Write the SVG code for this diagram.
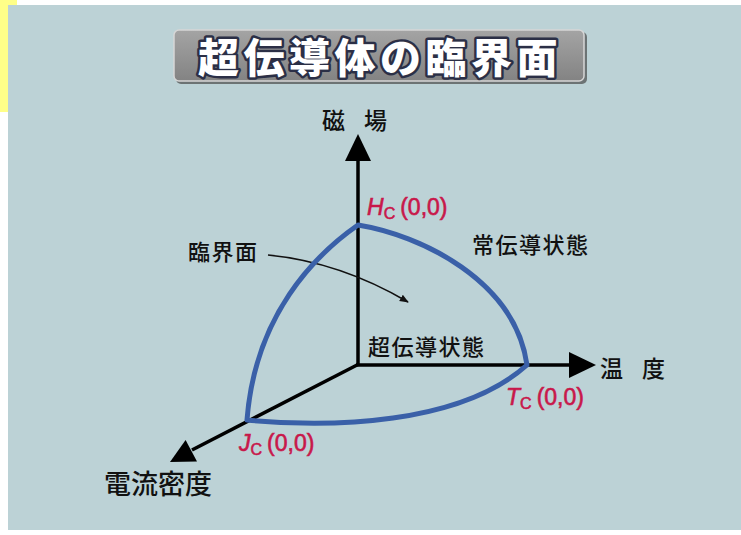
<svg xmlns="http://www.w3.org/2000/svg" width="741" height="535" viewBox="0 0 741 535">
  <defs>
    <linearGradient id="boxg" x1="0" y1="0" x2="0" y2="1">
      <stop offset="0" stop-color="#a4a4a4"/>
      <stop offset="1" stop-color="#838383"/>
    </linearGradient>
    <marker id="thinArrow" viewBox="0 0 10 10" refX="9" refY="5" markerWidth="9" markerHeight="9" orient="auto" markerUnits="userSpaceOnUse">
      <path d="M0,1 L10,5 L0,9 z" fill="#111"/>
    </marker>
    <style>
      .jp { font-family: "Noto Sans CJK JP", "Noto Sans CJK SC", sans-serif; fill: #111; font-weight: 500; }
      .red { font-family: "Liberation Sans", Arial, sans-serif; fill: #c8174a; stroke: #c8174a; stroke-width: 0.6; font-size: 23px; }
      .axis { stroke: #000; stroke-width: 3.5; fill: none; }
      .head { fill: #000; }
      .crit { stroke: #3a60a8; stroke-width: 5; fill: none; stroke-linejoin: round; }
    </style>
  </defs>
  <rect x="0" y="0" width="741" height="535" fill="#ffffff"/>
  <rect x="0" y="0" width="17" height="112" fill="#ffff88"/>
  <rect x="8" y="5" width="733" height="525" fill="#bcd2d6"/>

  <g id="title">
    <rect x="176" y="32" width="411" height="52" rx="5" fill="#4a4a4a" opacity="0.7"/>
    <rect x="174" y="30" width="410" height="51" rx="5" fill="url(#boxg)" stroke="#d6d6d6" stroke-width="1.5"/>
    <text x="380" y="73" text-anchor="middle" font-family="'Noto Sans CJK JP', sans-serif" font-weight="900" font-size="41" fill="#ffffff" stroke="#2b2f46" stroke-width="5" stroke-linejoin="round" paint-order="stroke" letter-spacing="4.5">超伝導体の臨界面</text>
  </g>

  <g id="connectors">
    <line class="axis" x1="358" y1="366" x2="358" y2="158"/>
    <polygon class="head" points="358,134 371,161 345,161"/>
    <line class="axis" x1="356" y1="365" x2="572" y2="365"/>
    <polygon class="head" points="596,365 569,352 569,378"/>
    <line class="axis" x1="359" y1="364" x2="192" y2="450"/>
    <polygon class="head" points="170,462 185.6,440 197,461.6"/>
    <path d="M268,255 Q340,262 408,302" stroke="#111" stroke-width="1.5" fill="none" marker-end="url(#thinArrow)"/>
  </g>

  <g id="critical-surface">
    <path class="crit" d="M358,225 C420,235 515,280 527,365 C460,425 330,428 247,420 C255,315 315,255 358,225 Z"/>
  </g>

  <g id="label-field">
    <text class="jp" x="322" y="129" font-size="23">磁</text>
    <text class="jp" x="364" y="129" font-size="23">場</text>
  </g>
  <g id="label-temp">
    <text class="jp" x="600" y="377" font-size="23">温</text>
    <text class="jp" x="642" y="377" font-size="23">度</text>
  </g>
  <g id="label-current">
    <text class="jp" x="104" y="494" font-size="27">電流密度</text>
  </g>
  <g id="label-surface">
    <text class="jp" x="188" y="260" font-size="22" letter-spacing="1.5">臨界面</text>
  </g>
  <g id="label-normal">
    <text class="jp" x="472" y="253" font-size="22" letter-spacing="1.5">常伝導状態</text>
  </g>
  <g id="label-super">
    <text class="jp" x="368" y="355" font-size="22" letter-spacing="1.5">超伝導状態</text>
  </g>

  <g id="Hc">
    <text class="red" x="367" y="215"><tspan font-style="italic">H</tspan><tspan font-size="16" dy="4">C</tspan><tspan dx="5" dy="-4">(0,0)</tspan></text>
  </g>
  <g id="Tc">
    <text class="red" x="506" y="405"><tspan font-style="italic">T</tspan><tspan font-size="16" dy="4">C</tspan><tspan dx="5" dy="-4">(0,0)</tspan></text>
  </g>
  <g id="Jc">
    <text class="red" x="239" y="451"><tspan font-style="italic">J</tspan><tspan font-size="16" dy="4">C</tspan><tspan dx="5" dy="-4">(0,0)</tspan></text>
  </g>
</svg>
